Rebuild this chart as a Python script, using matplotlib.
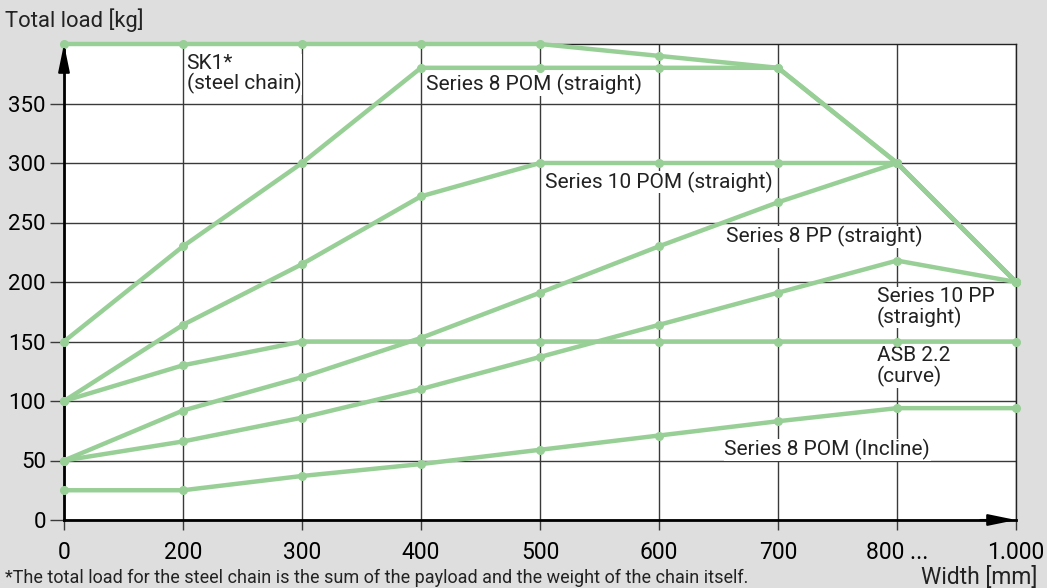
import matplotlib
matplotlib.use("Agg")
import matplotlib.pyplot as plt
import numpy as np

plt.rcParams['font.family'] = ['Roboto', 'DejaVu Sans']

# chart data
widths = ["0", "200", "300", "400", "500", "600", "700", "800 ...", "1.000"]
sk1 = [400, 400, 400, 400, 400, 390, 380, 300, 200]
s8_pom = [150, 230, 300, 380, 380, 380, 380, 300, 200]
s10_pom = [100, 164, 215, 272, 300, 300, 300, 300, 200]
s8_pp = [50, 92, 120, 153, 191, 230, 267, 300, 200]
s10_pp = [50, 66, 86, 110, 137, 164, 191, 218, 200]
asb = [100, 130, 150, 150, 150, 150, 150, 150, 150]
s8_pom_incline = [25, 25, 37, 47, 59, 71, 83, 94, 94]
y_ticks = [0, 50, 100, 150, 200, 250, 300, 350]

GREEN = '#98cf96'
BG = '#dedede'
GRID = '#3a3a3a'

fig = plt.figure(figsize=(10.47, 5.88), dpi=100)
fig.patch.set_facecolor(BG)
ax = fig.add_axes([64/1047, 68/588, 952/1047, 476/588])
ax.set_facecolor('white')

x = np.arange(len(widths))
ax.set_xlim(0, len(widths) - 1)
ax.set_ylim(0, 400)

ax.set_xticks(x)
ax.set_xticklabels(widths, fontsize=16.5)
ax.set_yticks(y_ticks)
ax.set_yticklabels([str(v) for v in y_ticks], fontsize=16)
ax.grid(True, color=GRID, lw=1, zorder=0)
ax.set_axisbelow(True)
ax.tick_params(axis='y', length=10, width=1, color=GRID, pad=3)
ax.tick_params(axis='x', length=7, width=1, color=GRID, pad=8)

for s in ['top', 'right']:
    ax.spines[s].set_color('#222222')
    ax.spines[s].set_linewidth(1)
for s in ['left', 'bottom']:
    ax.spines[s].set_color('black')
    ax.spines[s].set_linewidth(2)

for series in [sk1, s8_pom, s10_pom, s8_pp, s10_pp, asb, s8_pom_incline]:
    ax.plot(x, series, color=GREEN, lw=3.2, marker='o', ms=5.5,
            solid_joinstyle='round', clip_on=False, zorder=3)

# axis arrows
ax.annotate('', xy=(0, 400), xytext=(0, 380),
            arrowprops=dict(arrowstyle='-|>,head_length=1.7,head_width=0.35',
                            color='black', lw=1.5, shrinkA=0, shrinkB=0, mutation_scale=10),
            annotation_clip=False, zorder=5)
ax.annotate('', xy=(8, 0), xytext=(7.7, 0),
            arrowprops=dict(arrowstyle='-|>,head_length=1.7,head_width=0.35',
                            color='black', lw=1.5, shrinkA=0, shrinkB=0, mutation_scale=10),
            annotation_clip=False, zorder=5)

box = dict(facecolor='white', edgecolor='none', pad=0.5)
lab = dict(fontsize=15, color='#222222', zorder=2, bbox=box)
ax.text(1.03, 392, "SK1*\n(steel chain)", va='top', ha='left', linespacing=1.05, **lab)
ax.text(3.04, 366, "Series 8 POM (straight)", va='center', ha='left', **lab)
ax.text(4.04, 284, "Series 10 POM (straight)", va='center', ha='left', **lab)
ax.text(5.56, 238, "Series 8 PP (straight)", va='center', ha='left', **lab)
ax.text(6.83, 196, "Series 10 PP\n(straight)", va='top', ha='left', linespacing=1.05, **lab)
ax.text(6.83, 146, "ASB 2.2\n(curve)", va='top', ha='left', linespacing=1.05, **lab)
ax.text(5.55, 59, "Series 8 POM (Incline)", va='center', ha='left', **lab)

fig.text(5/1047, 1 - 20/588, "Total load [kg]", fontsize=15.8, color='#222222', va='center', ha='left')
fig.text(1037/1047, 1 - 577/588, "Width [mm]",
         fontsize=16.5, color='#222222', va='center', ha='right')
fig.text(5/1047, 1 - 578/588,
         "*The total load for the steel chain is the sum of the payload and the weight of the chain itself.",
         fontsize=13, color='#222222', va='center', ha='left')

fig.savefig('out.png', dpi=100, facecolor=BG)
